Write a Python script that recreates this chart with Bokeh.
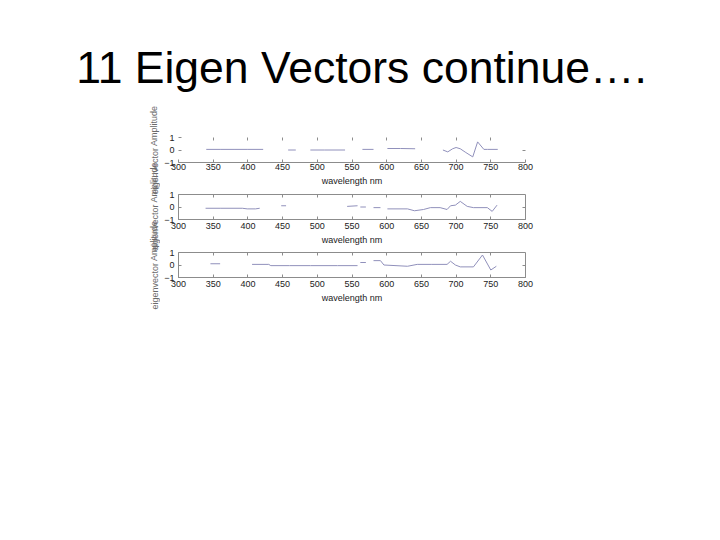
from bokeh.plotting import figure
from bokeh.layouts import column, row
from bokeh.models import LinearAxis, FixedTicker, Range1d
from bokeh.core.properties import value
from bokeh.embed import file_html
from bokeh.resources import INLINE

nan = float("nan")

TITLE = "11 Eigen Vectors continue…."
X_LABEL = "wavelength nm"
Y_LABEL = "eigenvector Amplitude"
X_TICKS = [300, 350, 400, 450, 500, 550, 600, 650, 700, 750, 800]
Y_TICKS = [-1, 0, 1]

# Eigenvector 9 (top)
wl1 = [340, 360, 380, 400, 422, 430, 458, 469, 480, 490, 510, 540, 550, 565, 581, 590,
       601, 620, 641, 660, 681, 688, 695, 700, 706, 714, 724, 731, 740, 745, 760]
amp1 = [0.05, 0.05, 0.05, 0.05, 0.05, nan, 0.0, 0.0, nan, 0.0, 0.0, 0.0, nan, 0.05, 0.05, nan,
        0.12, 0.12, 0.1, nan, 0.0, -0.15, 0.1, 0.2, 0.1, -0.2, -0.55, 0.65, 0.05, 0.05, 0.05]

# Eigenvector 10 (middle)
wl2 = [339, 360, 392, 399, 411, 417, 440, 448, 455, 470, 482, 495, 509, 525, 543, 558, 560,
       562, 570, 575, 581, 591, 596, 601, 630, 640, 653, 663, 677, 687, 692, 699, 706, 716,
       725, 745, 752, 759]
amp2 = [-0.1, -0.1, -0.1, -0.15, -0.15, -0.1, nan, 0.1, 0.1, nan, 0.1, nan, 0.05, nan, 0.05,
        0.1, nan, 0.0, 0.0, nan, -0.05, -0.05, nan, -0.15, -0.15, -0.3, -0.2, -0.05, -0.05,
        -0.2, 0.1, 0.15, 0.45, 0.05, -0.05, -0.05, -0.35, 0.15]

# Eigenvector 11 (bottom)
wl3 = [346, 360, 380, 406, 430, 433, 460, 490, 529, 558, 560, 562, 570, 575, 581, 591,
       596, 630, 644, 665, 687, 692, 699, 706, 725, 738, 750, 758]
amp3 = [0.1, 0.1, nan, 0.05, 0.05, -0.05, -0.05, -0.05, -0.05, -0.05, nan, 0.2, 0.2, nan,
        0.35, 0.35, 0.0, -0.1, 0.05, 0.05, 0.05, 0.3, 0.0, -0.15, -0.15, 0.8, -0.4, -0.1]

LINE_COLOR = "#9090bb"
AXIS_COLOR = "#8c8c8c"
TEXT_COLOR = "#222222"
FONT = "Liberation Sans"

# Title
TH = 95
tfig = figure(width=704, height=TH, x_range=Range1d(0, 704), y_range=Range1d(TH, 0),
              output_backend="svg", toolbar_location=None, min_border=0)
tfig.axis.visible = False
tfig.grid.visible = False
tfig.outline_line_color = None
tfig.text(x=[361], y=[67], text=[TITLE], text_font=value(FONT), text_font_size="44.5px",
          text_color="black", text_align="center", text_baseline="middle")


def make_sub(wl, amp, top, bottom, outline, lab_standoff):
    p = figure(frame_width=347, frame_height=25, x_range=Range1d(300, 800), y_range=Range1d(-1, 1),
               output_backend="svg", toolbar_location=None,
               min_border_left=18, min_border_right=12,
               min_border_top=top, min_border_bottom=bottom)
    p.line(wl, amp, line_color=LINE_COLOR, line_width=1)
    p.grid.visible = False
    p.outline_line_color = AXIS_COLOR if outline else None
    p.xaxis.ticker = FixedTicker(ticks=X_TICKS)
    p.yaxis.ticker = FixedTicker(ticks=Y_TICKS)
    p.xaxis.axis_label = X_LABEL
    p.yaxis.axis_line_color = None
    p.xaxis.axis_line_color = AXIS_COLOR
    for ax in (p.xaxis[0], p.yaxis[0]):
        ax.major_tick_in = 3
        ax.major_tick_out = 0
        ax.minor_tick_line_color = None
        ax.major_tick_line_color = AXIS_COLOR
        ax.major_label_text_font = FONT
        ax.major_label_text_font_size = "9px"
        ax.major_label_text_color = TEXT_COLOR
        ax.axis_label_text_font = FONT
        ax.axis_label_text_font_size = "9px"
        ax.axis_label_text_font_style = "normal"
        ax.axis_label_text_color = TEXT_COLOR
    p.xaxis.major_label_standoff = lab_standoff
    p.xaxis.axis_label_standoff = 3
    p.yaxis.major_label_standoff = 4
    top_ax = LinearAxis(ticker=FixedTicker(ticks=X_TICKS[1:-1]), major_label_text_font_size="1px",
                        major_label_text_color=None,
                        major_tick_in=3, major_tick_out=0, major_label_standoff=0,
                        axis_line_color=None, minor_tick_line_color=None,
                        major_tick_line_color=AXIS_COLOR)
    right_ax = LinearAxis(ticker=FixedTicker(ticks=Y_TICKS[1:2]), major_label_text_font_size="1px",
                          major_label_text_color=None,
                          major_tick_in=3, major_tick_out=0, major_label_standoff=0,
                          axis_line_color=None, minor_tick_line_color=None,
                          major_tick_line_color=AXIS_COLOR)
    p.add_layout(top_ax, "above")
    p.add_layout(right_ax, "right")
    return p


f1 = make_sub(wl1, amp1, 42, 27, False, 1)
f2 = make_sub(wl2, amp2, 5, 28, True, 3)
f3 = make_sub(wl3, amp3, 5, 33, True, 3)

# Overlapping y labels (one per subplot)
LH = 220
lfig = figure(width=160, height=LH, x_range=Range1d(0, 160), y_range=Range1d(LH, 0),
              output_backend="svg", toolbar_location=None, min_border=0)
lfig.axis.visible = False
lfig.grid.visible = False
lfig.outline_line_color = None
lfig.text(x=[154, 154, 154], y=[54.5, 111, 169.5], text=[Y_LABEL] * 3,
          text_font=value(FONT), text_font_size="9px", text_color="#6a6a6a",
          angle=1.5708, text_align="center", text_baseline="middle")

layout = column(tfig, row(lfig, column(f1, f2, f3, spacing=0), spacing=0), spacing=0)

open("out.html", "w").write(file_html(layout, INLINE))
